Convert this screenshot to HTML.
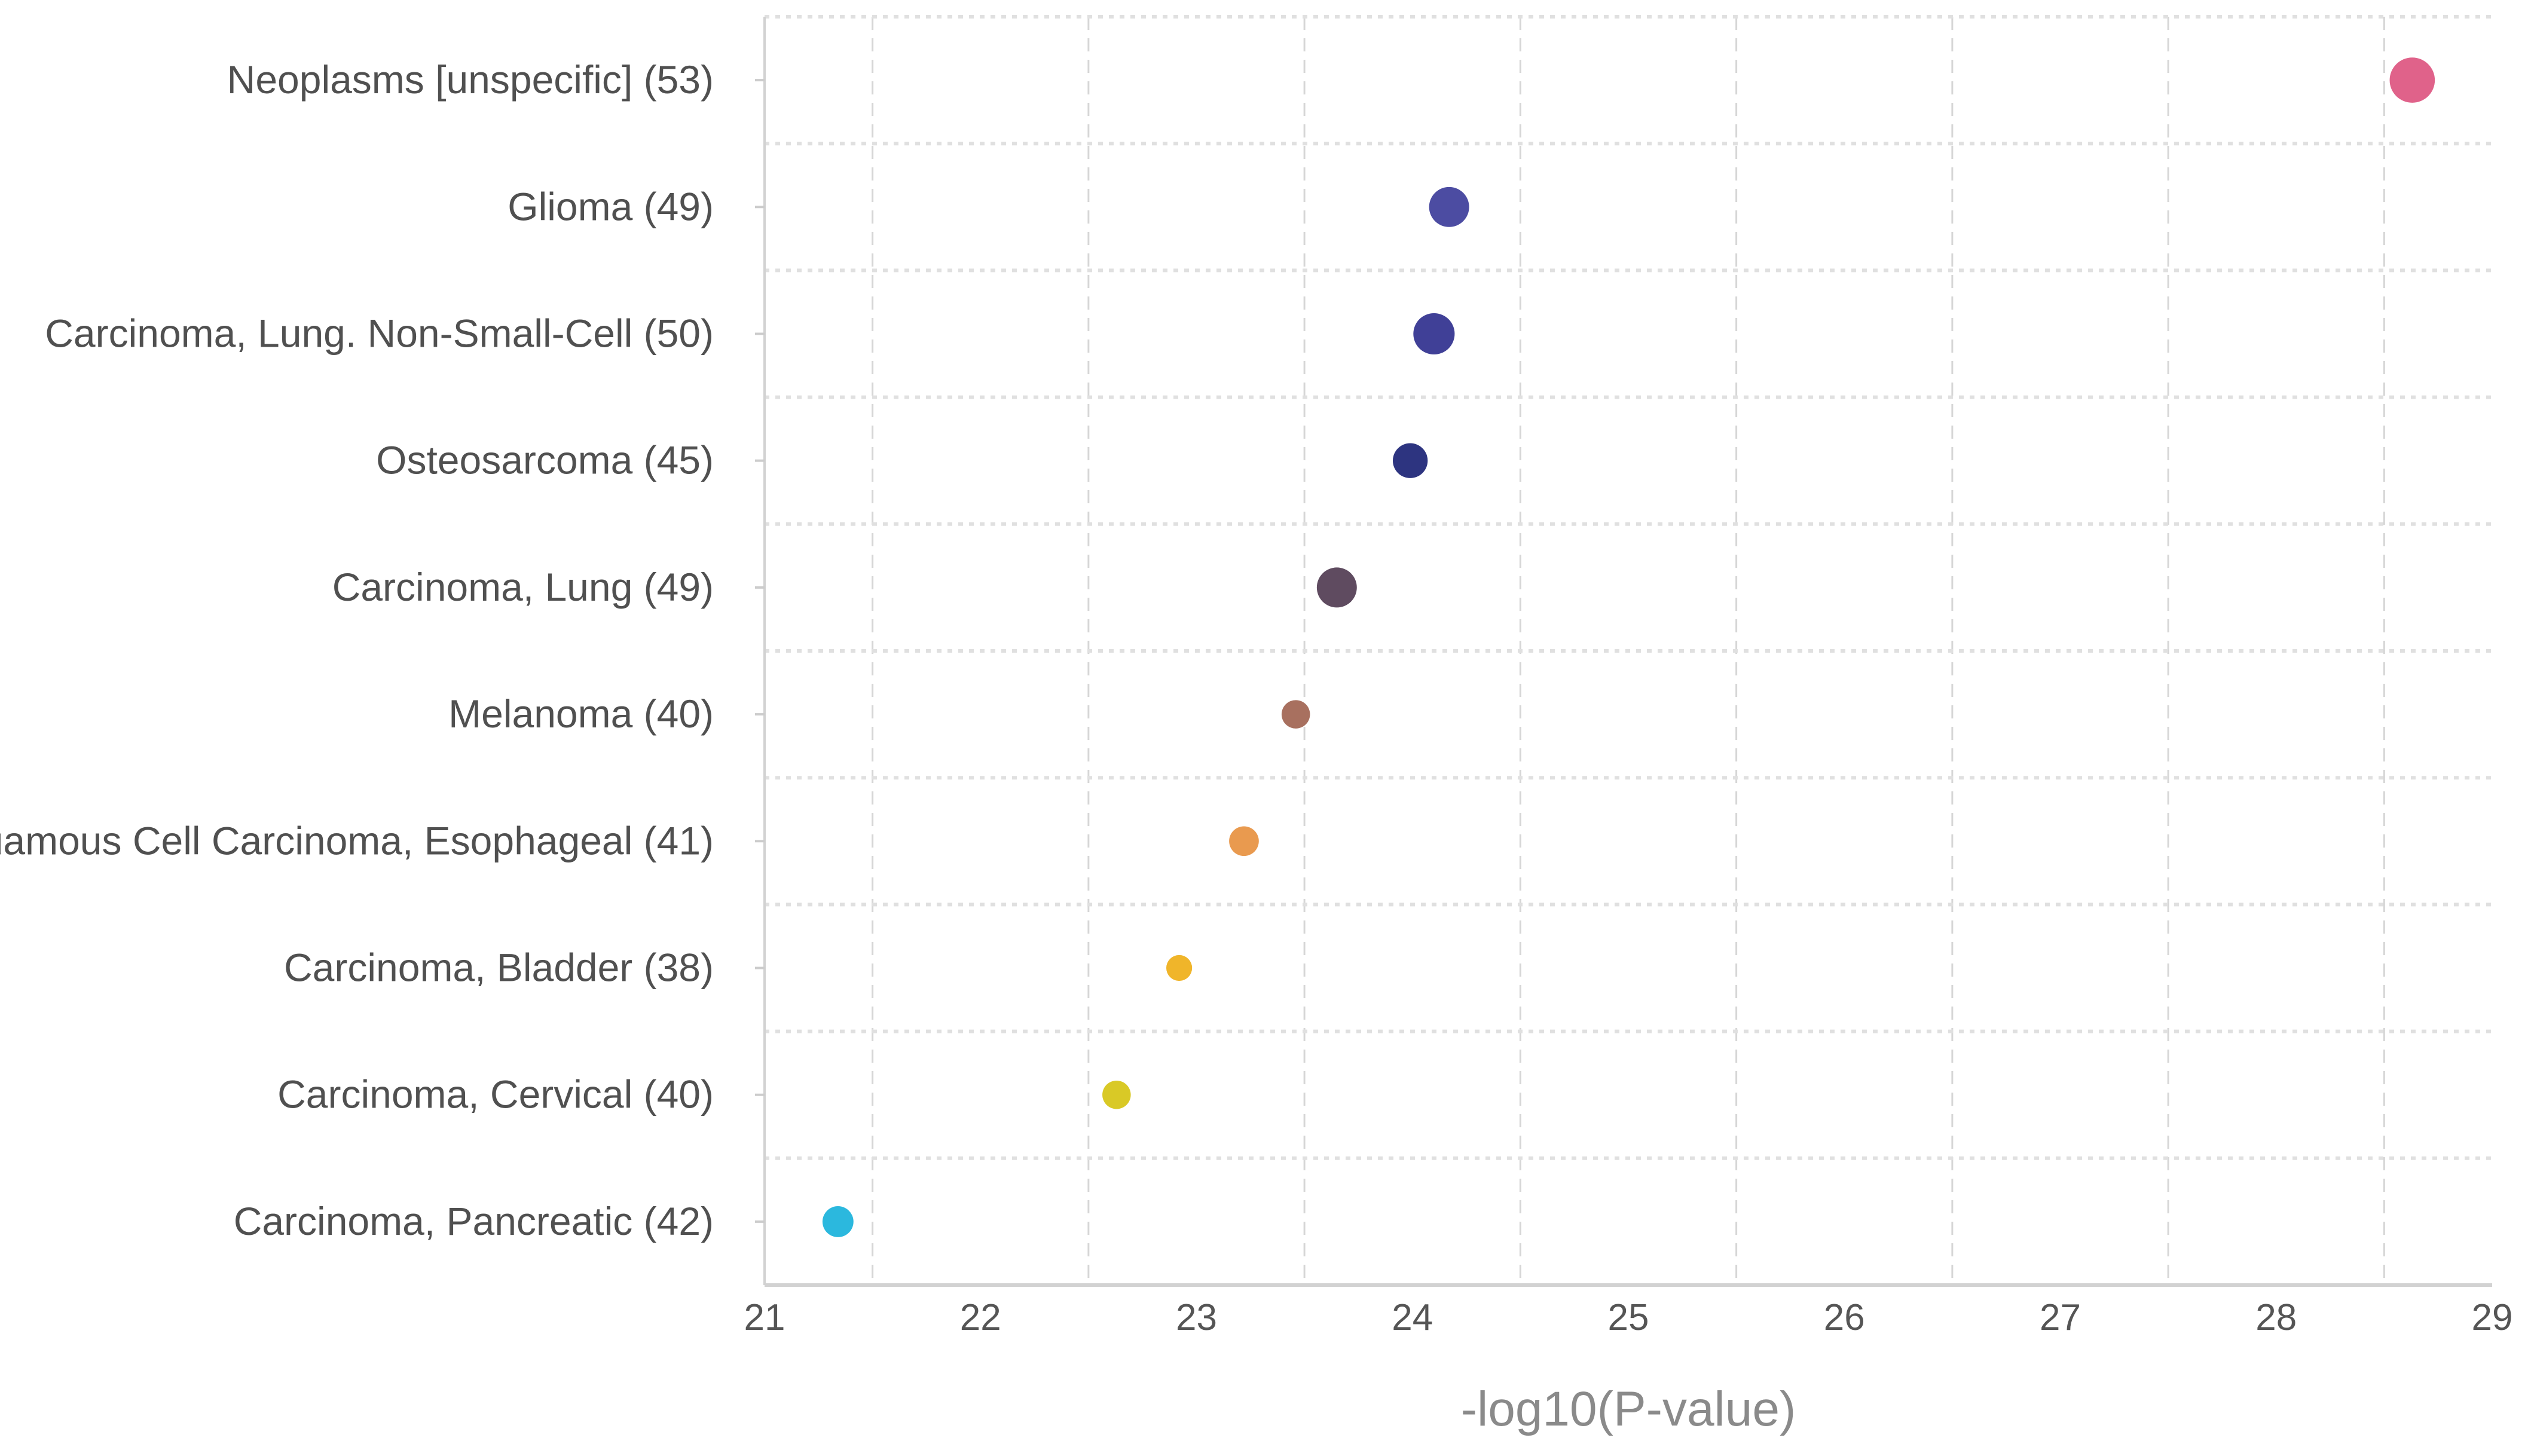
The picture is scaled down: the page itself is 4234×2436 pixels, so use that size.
<!DOCTYPE html>
<html><head><meta charset="utf-8"><style>
html,body{margin:0;padding:0;background:#fff;}
svg{display:block;font-family:"Liberation Sans",sans-serif;}
</style></head><body>
<svg id="chart" width="4234" height="2436" viewBox="0 0 4234 2436"></svg>
<script>
const categories=["Neoplasms [unspecific] (53)","Glioma (49)","Carcinoma, Lung. Non-Small-Cell (50)","Osteosarcoma (45)","Carcinoma, Lung (49)","Melanoma (40)","Squamous Cell Carcinoma, Esophageal (41)","Carcinoma, Bladder (38)","Carcinoma, Cervical (40)","Carcinoma, Pancreatic (42)"];
const values=[28.63,24.17,24.10,23.99,23.65,23.46,23.22,22.92,22.63,21.34];
const counts=[53,49,50,45,49,40,41,38,40,42];
const colors=["#e0628a","#4c4ca2","#404097","#2d3480","#5f4b60","#a8705f","#e99a4f","#f0b52a","#d9c926","#2bb8de"];
const xTicks=[21,22,23,24,25,26,27,28,29];
const NS="http://www.w3.org/2000/svg";
const svg=document.getElementById('chart');
const L=1279,R=4169,T=28,B=2150,xMin=21,xMax=29;
const rowH=(B-T)/categories.length;
function xs(v){return L+(v-xMin)/(xMax-xMin)*(R-L);}
function ys(i){return T+rowH*(i+0.5);}
function rs(c){return (8+(c-38)*0.4)*2.7;}
function mk(tag,attrs){const e=document.createElementNS(NS,tag);for(const k in attrs)e.setAttribute(k,attrs[k]);svg.appendChild(e);return e;}
for(let v=xMin+0.5;v<xMax;v+=1){
  const g=mk('line',{x1:xs(v),x2:xs(v),y1:T,y2:B,stroke:'#d6d6d6','stroke-width':3,'stroke-dasharray':'22 14'});
  
  
}
for(let i=0;i<categories.length;i++){
  const g=mk('line',{x1:L,x2:R,y1:T+rowH*i,y2:T+rowH*i,stroke:'#e0e0e0','stroke-width':6,'stroke-dasharray':'8 10'});
  
  
}
const ya=mk('line',{x1:L,x2:L,y1:T,y2:B,stroke:'#d2d2d2','stroke-width':4});


const xa=mk('line',{x1:L,x2:R,y1:B,y2:B,stroke:'#d2d2d2','stroke-width':6});


xTicks.forEach(v=>{
  const t=mk('text',{x:xs(v),y:2225,'text-anchor':'middle','font-size':62,fill:'#555'});
  t.textContent=v;
  
  
});
categories.forEach((c,i)=>{
  const tk=mk('line',{x1:L-16,x2:L,y1:ys(i),y2:ys(i),stroke:'#ccc','stroke-width':4});
  
  
  const t=mk('text',{x:1194,y:ys(i)+22,'text-anchor':'end','font-size':66,fill:'#505050'});
  t.textContent=c;
  
  
});
values.forEach((v,i)=>{
  const d=mk('circle',{cx:xs(v),cy:ys(i),r:rs(counts[i]),fill:colors[i]});
  
  
});
const at=mk('text',{x:(L+R)/2,y:2385,'text-anchor':'middle','font-size':82,fill:'#8a8a8a'});
at.textContent='-log10(P-value)';


</script>
</body></html>
